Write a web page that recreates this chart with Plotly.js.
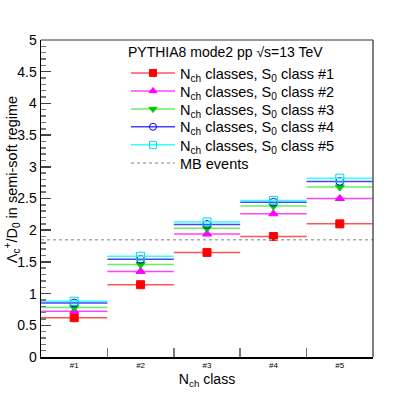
<!DOCTYPE html>
<html>
<head>
<meta charset="utf-8">
<script src="https://cdn.plot.ly/plotly-3.0.1.min.js"></script>
<style>
  body { margin: 0; background: #fff; }
  #chart { width: 415px; height: 397px; }
</style>
</head>
<body>
<div id="chart"></div>
<script>
// N_ch class bins (centres) and labels
const bins = [1, 2, 3, 4, 5];
const binLabels = ["#1", "#2", "#3", "#4", "#5"];
const binEdges = [1.5, 2.5, 3.5, 4.5];

// Lambda_c+/D0 ratio per S0 class
const s0class1 = [0.62, 1.14, 1.65, 1.90, 2.10];
const s0class2 = [0.72, 1.35, 1.94, 2.26, 2.50];
const s0class3 = [0.78, 1.46, 2.03, 2.38, 2.68];
const s0class4 = [0.85, 1.54, 2.09, 2.44, 2.77];
const s0class5 = [0.88, 1.59, 2.13, 2.47, 2.82];
const mbValue = 1.85;

const series = [
  {y: s0class1, name: "N<sub>ch</sub> classes, S<sub>0</sub> class #1",
   mcol: "#ff0000", lcol: "#ff5555", sym: "square"},
  {y: s0class2, name: "N<sub>ch</sub> classes, S<sub>0</sub> class #2",
   mcol: "#ff00ff", lcol: "#ff44ff", sym: "triangle-up"},
  {y: s0class3, name: "N<sub>ch</sub> classes, S<sub>0</sub> class #3",
   mcol: "#00cc00", lcol: "#66ee66", sym: "triangle-down"},
  {y: s0class4, name: "N<sub>ch</sub> classes, S<sub>0</sub> class #4",
   mcol: "#0000ff", lcol: "#4444ff", sym: "circle-open"},
  {y: s0class5, name: "N<sub>ch</sub> classes, S<sub>0</sub> class #5",
   mcol: "#00dddd", lcol: "#33ffff", sym: "square-open"}
];

// one small legend per entry, stacked like the ROOT legend
const legendY = [0.896, 0.839, 0.782, 0.726, 0.669, 0.612];
const legendX = 0.256;

let traces = [];

// points with horizontal bin-width bars
series.forEach(s => {
  traces.push({
    x: bins, y: s.y, type: "scatter", mode: "markers", showlegend: false,
    marker: {symbol: s.sym, size: 8, color: s.mcol, line: {color: s.mcol, width: 1}},
    error_x: {type: "constant", value: 0.5, width: 0, thickness: 1.5, color: s.lcol},
    hoverinfo: "skip"
  });
});

// legend-only entries so the legend shows line + marker
series.forEach((s, i) => {
  traces.push({
    x: [null], y: [null], type: "scatter", mode: "lines+markers", name: s.name,
    legend: i === 0 ? "legend" : "legend" + (i + 1),
    marker: {symbol: s.sym, size: 7, color: s.mcol, line: {color: s.mcol, width: 1}},
    line: {color: s.lcol, width: 1.5}
  });
});

traces.push({
  x: [0.5, 5.5], y: [mbValue, mbValue], type: "scatter", mode: "lines",
  name: "MB events", legend: "legend6",
  line: {color: "#aaaaaa", width: 1.5, dash: "dot"}
});

const layout = {
  width: 415, height: 397,
  margin: {l: 41, r: 42, t: 40, b: 40},
  paper_bgcolor: "#fff", plot_bgcolor: "#fff",
  font: {family: "Liberation Sans, Arial, sans-serif", color: "#000", size: 14},
  showlegend: true,
  xaxis: {
    range: [0.5, 5.5], showgrid: false, zeroline: false,
    tickmode: "array", tickvals: bins, ticktext: binLabels,
    ticks: "", tickfont: {size: 8},
    minor: {tickmode: "array", tickvals: binEdges, ticks: "inside", ticklen: 9,
            tickcolor: "#777", tickwidth: 1.5, showgrid: false},
    showline: true, linecolor: "#000", linewidth: 1.5,
    title: {text: "N<sub>ch</sub> class", font: {size: 14}, standoff: 5}
  },
  yaxis: {
    range: [0, 5], showgrid: false, zeroline: false,
    tickmode: "linear", tick0: 0, dtick: 0.5,
    ticks: "inside", ticklen: 10, tickcolor: "#444", tickwidth: 1.5,
    minor: {dtick: 0.1, ticks: "inside", ticklen: 5, tickcolor: "#777", showgrid: false},
    showline: true, linecolor: "#000", linewidth: 1.5,
    tickfont: {size: 14}
  },
  shapes: [
    {type: "line", xref: "paper", yref: "paper", x0: 0, x1: 1, y0: 1, y1: 1,
     line: {color: "#999", width: 2}},
    {type: "line", xref: "paper", yref: "paper", x0: 1, x1: 1, y0: 0, y1: 1,
     line: {color: "#555", width: 1.5}}
  ],
  annotations: [
    {text: "Λ<sub>c</sub><sup>+</sup>/D<sub>0</sub> in semi-soft regime",
     xref: "paper", yref: "paper", x: -0.087, y: 0.558, textangle: -90,
     xanchor: "center", yanchor: "middle", showarrow: false, font: {size: 14.5}},
    {text: "PYTHIA8 mode2 pp √s=13 TeV",
     xref: "paper", yref: "paper", x: 0.256, y: 0.962,
     xanchor: "left", yanchor: "middle", showarrow: false, font: {size: 14}}
  ]
};

legendY.forEach((y, i) => {
  const key = i === 0 ? "legend" : "legend" + (i + 1);
  layout[key] = {
    x: legendX, y: y, xanchor: "left", yanchor: "middle",
    bgcolor: "rgba(0,0,0,0)", borderwidth: 0, itemwidth: 44,
    font: {size: 14.5}
  };
});

Plotly.newPlot("chart", traces, layout, {displayModeBar: false, staticPlot: true});
</script>
</body>
</html>
